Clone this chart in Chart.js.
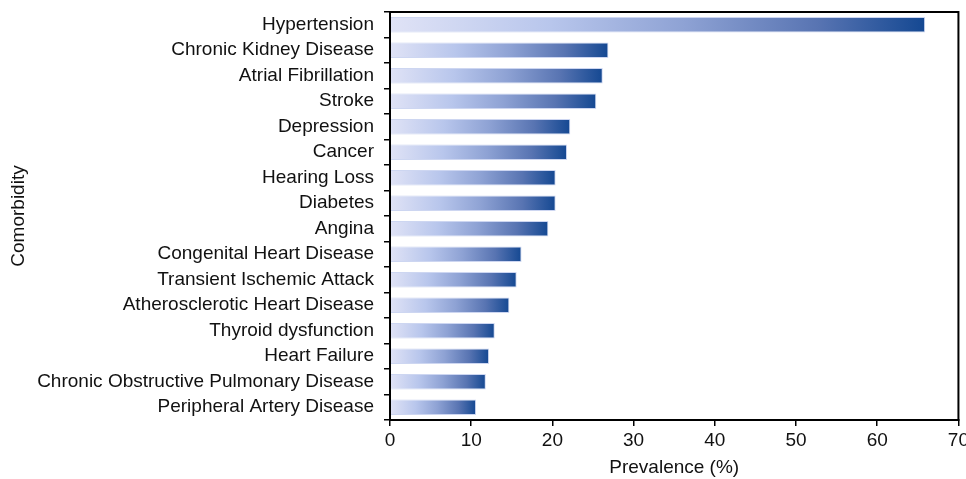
<!DOCTYPE html>
<html>
<head>
<meta charset="utf-8">
<script src="https://cdn.jsdelivr.net/npm/chart.js@4.4.1/dist/chart.umd.min.js"></script>
<style>
  html, body { margin: 0; padding: 0; background: #fff; overflow: hidden; }
  #wrap { position: relative; width: 972px; height: 479px; }
</style>
</head>
<body>
<div id="wrap"><canvas id="chart"></canvas></div>
<script>
/* ===== Comorbidity prevalence (horizontal bars) ===== */
var comorbidities = [
    "Hypertension",
    "Chronic Kidney Disease",
    "Atrial Fibrillation",
    "Stroke",
    "Depression",
    "Cancer",
    "Hearing Loss",
    "Diabetes",
    "Angina",
    "Congenital Heart Disease",
    "Transient Ischemic Attack",
    "Atherosclerotic Heart Disease",
    "Thyroid dysfunction",
    "Heart Failure",
    "Chronic Obstructive Pulmonary Disease",
    "Peripheral Artery Disease"
];
var prevalence = [65.9, 26.9, 26.2, 25.4, 22.2, 21.8, 20.4, 20.4, 19.5, 16.2, 15.6, 14.7, 12.9, 12.2, 11.8, 10.6];
var xTicks = [0, 10, 20, 30, 40, 50, 60, 70];

var FONT = "'Liberation Sans', Arial, sans-serif";

/* --- gradient from the bar base to its end --- */
function barGradient(ctx) {
    var chart = ctx.chart;
    var xs = chart.scales.x;
    if (!xs || ctx.dataIndex === undefined) return "#5a74b8";
    var v = ctx.dataset.data[ctx.dataIndex];
    var x0 = xs.getPixelForValue(0);
    var x1 = xs.getPixelForValue(v);
    if (!isFinite(x0) || !isFinite(x1) || x1 <= x0) return "#5a74b8";
    var g = chart.ctx.createLinearGradient(x0, 0, x1, 0);
    g.addColorStop(0, "#e0e3f6");
    g.addColorStop(0.3, "#b8c6ec");
    g.addColorStop(0.55, "#8ea2d4");
    g.addColorStop(0.8, "#5874b2");
    g.addColorStop(1, "#144892");
    return g;
}

/* --- black frame round the plot area --- */
var framePlugin = {
    id: "frame",
    afterDraw: function (chart) {
        var a = chart.chartArea;
        var c = chart.ctx;
        c.save();
        c.strokeStyle = "#000";
        c.lineWidth = 2;
        c.strokeRect(a.left, a.top, a.right - a.left, a.bottom - a.top);
        c.restore();
    }
};

new Chart(document.getElementById("chart"), {
    type: "bar",
    data: {
        labels: comorbidities,
        datasets: [{
            data: prevalence,
            backgroundColor: barGradient,
            borderColor: "rgba(200,210,240,0.9)",
            borderWidth: 1,
            borderSkipped: "start",
            barPercentage: 0.6,
            categoryPercentage: 1.0
        }]
    },
    options: {
        indexAxis: "y",
        responsive: true,
        maintainAspectRatio: false,
        animation: false,
        layout: { padding: { top: 12, right: 0, left: 0, bottom: 0 } },
        plugins: {
            legend: { display: false },
            tooltip: { enabled: false }
        },
        scales: {
            x: {
                min: 0,
                max: 70,
                afterBuildTicks: function (scale) {
                    scale.ticks = xTicks.map(function (v) { return { value: v }; });
                },
                afterFit: function (scale) { scale.height = 59; },
                ticks: {
                    color: "#111",
                    font: { family: FONT, size: 19 },
                    padding: 3,
                    maxRotation: 0
                },
                grid: { drawOnChartArea: false, drawTicks: true, tickLength: 6, color: "#000", lineWidth: 1.5 },
                border: { display: true, color: "#000", width: 2 },
                title: {
                    display: true,
                    text: "Prevalence (%)",
                    color: "#111",
                    font: { family: FONT, size: 19 },
                    padding: { top: 0, bottom: 0 }
                }
            },
            y: {
                afterFit: function (scale) {
                    scale.width = 390;
                    scale.paddingTop = 0;
                    scale.paddingBottom = 0;
                },
                ticks: {
                    color: "#111",
                    font: { family: FONT, size: 19 },
                    padding: 10,
                    autoSkip: false
                },
                grid: { offset: true, drawOnChartArea: false, drawTicks: true, tickLength: 6, color: "#000", lineWidth: 1.5 },
                border: { display: true, color: "#000", width: 2 },
                title: {
                    display: true,
                    text: "Comorbidity",
                    color: "#111",
                    font: { family: FONT, size: 19 },
                    padding: { top: 7, bottom: 0 }
                }
            }
        }
    },
    plugins: [framePlugin]
});
</script>
</body>
</html>
